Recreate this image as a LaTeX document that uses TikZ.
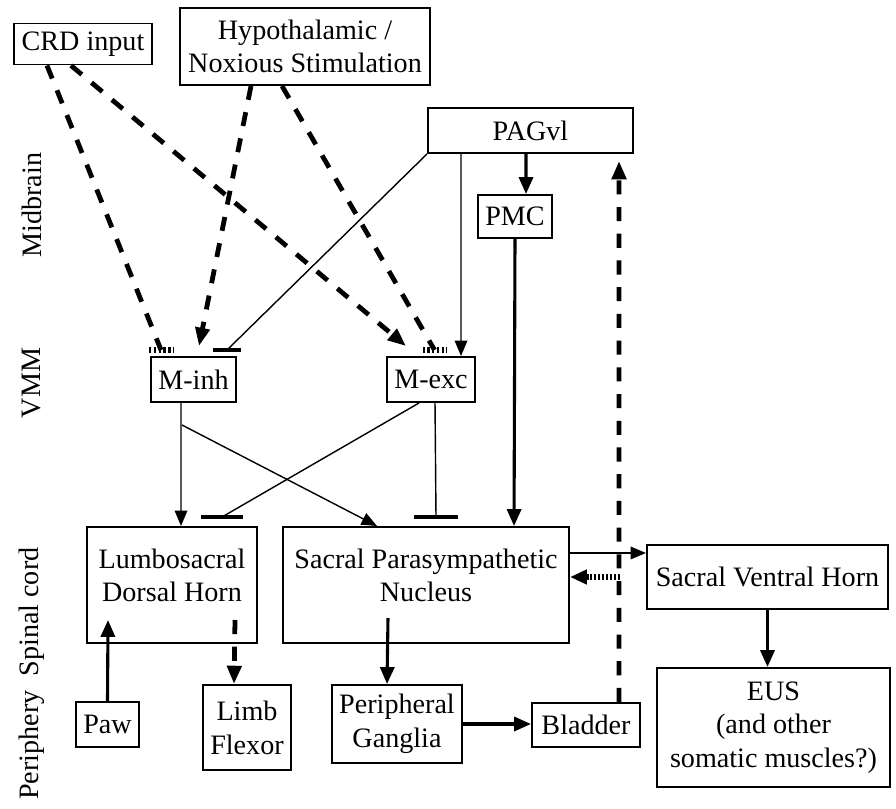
\documentclass[tikz,border=0pt]{standalone}
\usepackage{fontspec}
\setmainfont{Liberation Serif}
\usetikzlibrary{arrows.meta}

\tikzset{
  box/.style={draw, line width=1.4pt, inner sep=2pt, align=center},
  plainline/.style={line width=1pt},
  thinarrow/.style={line width=1pt, -{Triangle[length=11pt,width=9pt]}},
  thickarrow/.style={line width=2.2pt, -{Triangle[length=12pt,width=10pt]}},
  dashline/.style={line width=3.4pt, dash pattern=on 10pt off 9pt},
  dasharrow/.style={dashline, -{Triangle[length=13pt,width=10pt]}},
  dotarrow/.style={line width=3.6pt, dash pattern=on 1.4pt off 1.4pt, -{Triangle[length=12pt,width=10pt]}},
  inhbar/.style={line width=2.2pt},
  modbar/.style={line width=4pt, dash pattern=on 1.7pt off 1.7pt}
}

\begin{document}
\begin{tikzpicture}[x=0.025cm, y=-0.025cm, font=\fontsize{20}{24}\selectfont]

\useasboundingbox (0,0) rectangle (896,809);

% level labels
\node[rotate=90] (midbrain) at (32,205) {Midbrain};
\node[rotate=90] (vmm) at (32,383) {VMM};
\node[rotate=90] (spinal) at (32,612) {Spinal cord};
\node[rotate=90] (periph) at (32,745) {Periphery};

% inputs and midbrain
\node[box, minimum width=3.45cm, minimum height=1.025cm] (crd) at (83,44) {CRD input};
\node[box, minimum width=6.25cm, minimum height=1.925cm] (hyp) at (305,46.5) {Hypothalamic /\\Noxious Stimulation};
\node[box, minimum width=5.125cm, minimum height=1.125cm] (pag) at (530.5,130.5) {PAGvl};
\node[box, minimum width=1.85cm, minimum height=1.075cm] (pmc) at (515,216.5) {PMC};

% VMM
\node[box, minimum width=2.125cm, minimum height=1.125cm] (minh) at (193.5,379.5) {M-inh};
\node[box, minimum width=2.2cm, minimum height=1.125cm] (mexc) at (431,379.5) {M-exc};

% spinal cord
\node[box, minimum width=4.25cm, minimum height=2.9cm, text depth=14pt] (ldh) at (172,585) {Lumbosacral\\Dorsal Horn};
\node[box, minimum width=7.15cm, minimum height=2.9cm, text depth=14pt] (spn) at (426,585) {Sacral Parasympathetic\\Nucleus};
\node[box, minimum width=6.025cm, minimum height=1.6cm] (svh) at (767.5,577) {Sacral Ventral Horn};

% periphery
\node[box, minimum width=1.575cm, minimum height=1.125cm] (paw) at (107.5,724.5) {Paw};
\node[box, minimum width=2.2cm, minimum height=2.125cm] (limb) at (247,727.5) {Limb\\Flexor};
\node[box, minimum width=3.25cm, minimum height=1.95cm] (pg) at (397,724) {Peripheral\\Ganglia};
\node[box, minimum width=2.7cm, minimum height=1.1cm] (blad) at (586,725) {Bladder};
\node[box, minimum width=5.825cm, minimum height=2.975cm] (eus) at (773.5,727.5) {EUS\\(and other\\somatic muscles?)};

% end points
\coordinate (minhmod) at (161,350);
\coordinate (mexcmod) at (434.5,350);
\coordinate (minhinh) at (227,350);
\coordinate (minhfork) at (182,425);
\coordinate (ldhinh) at (222,517);
\coordinate (spninh) at (436,517);
\coordinate (ldhin) at (108,620);
\coordinate (ldhout) at (235,620);
\coordinate (spnout) at (388,618);
\coordinate (fbk) at (620,577);

% dashed inputs
\draw[dashline] ([xshift=0.85cm]crd.south west) -- (minhmod);
\draw[dasharrow] ([xshift=1.45cm]crd.south west) -- ([xshift=0.5cm,yshift=0.25cm]mexc.north west);
\draw[dasharrow] ([xshift=1.8cm]hyp.south west) -- ([xshift=1.225cm,yshift=0.25cm]minh.north west);
\draw[dashline] ([xshift=2.575cm]hyp.south west) -- (mexcmod);
\draw[modbar] ([xshift=-0.3cm]minhmod) -- ([xshift=0.3cm]minhmod);
\draw[modbar] ([xshift=-0.3cm]mexcmod) -- ([xshift=0.3cm]mexcmod);

% PAGvl outputs
\draw[plainline] (pag.south west) -- (minhinh);
\draw[inhbar] ([xshift=-0.34cm]minhinh) -- ([xshift=0.34cm]minhinh);
\draw[thinarrow] ([xshift=0.85cm]pag.south west) -- ([xshift=1.875cm]mexc.north west);
\draw[thickarrow] ([xshift=2.475cm]pag.south west) -- ([xshift=1.225cm]pmc.north west);
\draw[thickarrow] (pmc.south) -- ([xshift=5.8cm]spn.north west);

% VMM outputs
\draw[thinarrow] ([xshift=0.775cm]minh.south west) -- ([xshift=2.375cm]ldh.north west);
\draw[thinarrow] (minhfork) -- ([xshift=2.375cm]spn.north west);
\draw[plainline] ([xshift=0.825cm]mexc.south west) -- (ldhinh);
\draw[inhbar] ([xshift=-0.525cm]ldhinh) -- ([xshift=0.525cm]ldhinh);
\draw[plainline] ([xshift=1.225cm]mexc.south west) -- (spninh);
\draw[inhbar] ([xshift=-0.55cm]spninh) -- ([xshift=0.55cm]spninh);

% spinal cord and periphery
\draw[thickarrow] (paw.north) -- (ldhin);
\draw[dasharrow] (ldhout) -- ([xshift=0.8cm]limb.north west);
\draw[thickarrow] (spnout) -- ([xshift=1.4cm]pg.north west);
\draw[thickarrow] (pg.east) -- (pg.east -| blad.west);
\draw[dasharrow] ([xshift=2.2cm]blad.north west) -- ([xshift=4.8cm,yshift=-0.175cm]pag.south west);
\draw[dotarrow] (fbk) -- (fbk -| spn.east);
\draw[thinarrow] ([yshift=0.8cm]spn.east) -- ([yshift=0.8cm]spn.east -| svh.west);
\draw[thickarrow] (svh.south) -- (svh.south |- eus.north);

\end{tikzpicture}
\end{document}
